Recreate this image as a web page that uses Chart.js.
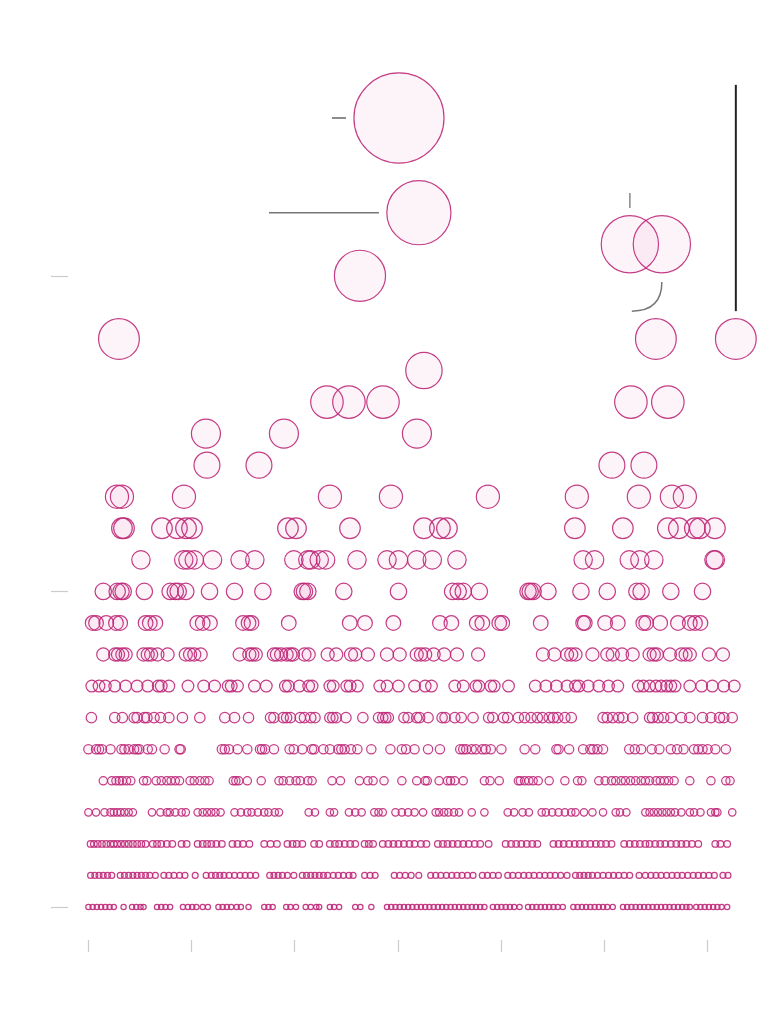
<!DOCTYPE html>
<html>
<head>
<meta charset="utf-8">
<script src="https://cdn.jsdelivr.net/npm/chart.js@4/dist/chart.umd.min.js"></script>
<style>
  html, body { margin: 0; padding: 0; background: #fff; overflow: hidden; }
  #chart { display: block; }
</style>
</head>
<body>
<canvas id="chart" width="760" height="1010"></canvas>
<script>
// x positions of the bubbles, one list per row (row = y value)
var level0 = [0.04,0.45,0.86,1.27,1.68,2.09,2.50,3.45,4.27,4.68,5.09,5.38,6.69,7.10,7.51,7.96,9.20,9.69,10.10,10.51,11.12,11.62,12.64,13.05,13.46,13.88,14.41,14.82,15.56,17.08,17.49,17.90,19.21,19.62,20.16,21.10,21.59,22.13,22.41,23.44,23.85,24.34,25.90,26.40,27.46,28.98,29.39,29.80,30.21,30.62,31.03,31.44,31.86,32.27,32.68,33.09,33.50,33.91,34.32,34.73,35.14,35.55,35.96,36.37,36.78,37.19,37.60,38.01,38.42,39.24,39.66,40.07,40.48,40.89,41.30,41.83,42.65,43.06,43.47,43.88,44.29,44.70,45.11,45.53,46.02,47.04,47.45,47.87,48.28,48.69,49.10,49.51,49.92,50.33,50.86,51.85,52.26,52.67,53.08,53.49,53.90,54.31,54.72,55.13,55.54,55.95,56.36,56.77,57.18,57.59,58.00,58.33,58.95,59.36,59.77,60.18,60.59,61.00,61.41,61.95];
var level1 = [0.25,0.66,1.07,1.48,1.89,2.30,3.12,3.53,3.94,4.35,4.76,5.17,5.58,5.99,6.53,7.35,7.84,8.33,8.87,9.40,10.39,11.45,11.95,12.36,12.77,13.18,13.67,14.20,14.74,15.23,15.72,16.26,17.61,18.02,18.43,18.84,19.33,19.95,20.77,21.18,21.59,22.00,22.41,22.82,23.23,23.77,24.26,24.75,25.29,25.70,26.81,27.34,27.83,29.68,30.21,30.75,31.32,32.06,33.21,33.70,34.20,34.73,35.26,35.76,36.25,36.78,37.32,38.22,38.71,39.24,39.78,40.68,41.17,41.71,42.24,42.73,43.23,43.76,44.29,44.79,45.28,45.81,46.43,47.25,47.66,48.07,48.48,48.89,49.38,49.92,50.45,50.94,51.44,51.97,52.50,53.41,54.02,54.56,55.05,55.54,56.08,56.61,57.10,57.59,58.13,58.66,59.15,59.65,60.18,60.71,61.54,62.03];
var level2 = [0.25,0.57,0.94,1.35,1.77,2.18,2.50,2.83,3.20,3.57,3.94,4.35,4.76,5.17,5.58,6.28,6.69,7.10,7.64,8.17,9.07,9.56,10.63,11.12,11.54,11.95,12.44,12.97,14.00,14.49,15.02,15.64,17.08,17.69,18.31,19.33,19.83,20.24,20.77,21.92,22.41,23.44,23.93,24.34,24.88,25.41,25.90,26.81,27.22,27.63,28.57,29.11,29.60,30.09,30.62,31.16,31.65,32.27,32.80,33.91,34.40,34.85,35.34,35.84,36.37,36.90,37.48,38.01,38.83,40.48,41.01,41.50,42.00,42.53,43.06,43.55,45.11,45.61,46.10,46.63,47.17,47.66,48.15,48.69,49.22,49.71,50.21,50.74,51.97,52.50,53.00,53.49,54.02,54.43,54.97,55.46,55.95,56.49,57.02,57.51,58.00,58.54,59.15,60.80,61.29,61.95];
var level3 = [0.04,0.78,1.60,2.18,2.50,2.83,3.16,3.53,3.94,4.35,6.20,7.02,7.64,7.92,8.46,9.07,9.48,10.63,11.12,11.54,11.95,12.36,12.85,14.20,14.82,15.44,15.85,16.46,17.08,17.49,18.10,18.51,21.39,22.00,23.44,23.85,25.29,25.90,26.52,27.75,28.16,28.57,29.80,30.42,31.03,31.65,32.47,33.70,34.03,34.52,34.93,35.47,35.96,37.19,38.42,40.68,41.30,42.12,42.73,43.97,44.38,44.99,45.61,46.22,46.84,47.25,48.07,48.89,49.92,51.15,51.56,52.18,54.02,54.43,54.84,55.25,55.66,56.08,56.49,56.90,57.51,58.33,58.74,59.36,60.38,60.80,61.00,62.44];
var level4 = [1.48,2.30,2.71,3.04,3.33,3.74,4.15,5.38,5.71,6.61,7.10,7.64,8.05,8.46,8.87,9.89,10.30,10.84,11.33,11.74,14.08,14.33,14.61,15.44,16.79,18.51,18.92,19.54,20.16,20.57,21.31,21.72,23.65,24.47,26.31,27.13,27.63,28.69,30.42,31.86,32.68,32.88,34.03,34.85,35.14,35.55,36.37,38.42,38.96,39.86,41.71,41.91,42.32,42.73,43.14,43.64,44.70,46.22,47.45,47.87,49.51,50.12,50.74,51.15,51.68,52.09,52.59,53.08,53.61,54.02,54.43,55.05,55.46,55.87,56.28,56.81,58.33,60.38,61.82,62.23];
var level5 = [0.04,0.78,1.07,1.35,2.18,3.24,3.53,3.94,4.47,4.76,4.97,5.79,6.20,7.43,8.87,8.99,12.97,13.26,13.67,14.49,15.44,16.67,16.87,17.16,18.02,19.54,19.95,20.77,21.72,21.92,22.82,23.44,24.26,24.55,24.88,25.49,26.11,27.46,29.31,30.42,30.83,31.65,32.96,34.11,36.08,36.37,36.66,37.19,37.60,38.22,38.55,39.04,40.07,42.32,43.35,45.40,45.61,46.63,47.99,48.69,48.97,49.38,49.92,52.46,53.00,53.61,54.64,55.38,56.49,57.10,57.72,58.74,59.15,59.56,60.06,60.80,61.82];
var level6 = [0.33,2.59,3.33,4.47,4.76,5.46,5.71,6.40,7.02,7.84,9.15,10.84,13.26,14.20,15.56,17.69,18.02,18.92,19.25,19.62,20.57,20.98,21.59,22.00,23.44,23.73,24.06,25.00,26.64,28.16,28.57,28.86,29.11,30.62,31.03,31.86,32.14,32.96,34.32,34.61,35.55,36.17,37.32,38.83,39.24,40.27,40.68,41.71,42.32,42.94,43.55,44.05,44.70,45.11,45.53,46.22,46.84,49.92,50.33,50.86,51.44,51.85,52.79,54.43,54.72,55.25,55.79,56.49,57.51,58.33,59.56,60.38,61.21,61.62,62.44];
var level7 = [0.37,1.07,1.68,2.59,3.65,4.76,5.79,6.81,7.10,7.84,9.69,11.21,12.27,13.59,13.88,14.49,16.13,17.28,19.13,19.42,20.48,21.39,21.72,23.44,23.77,25.08,25.41,26.11,28.28,28.98,30.09,31.65,32.68,33.29,35.55,36.37,37.60,37.89,39.04,39.37,40.76,43.35,44.38,45.40,46.43,47.25,47.58,48.48,49.51,50.45,51.35,53.33,53.82,54.43,55.05,55.54,56.08,56.49,56.90,58.33,59.48,60.51,61.62,62.64];
var level8 = [1.48,2.63,2.91,3.33,3.65,5.38,5.79,6.12,6.73,7.72,9.48,9.89,10.30,10.92,14.70,15.64,15.93,16.26,18.02,18.31,18.72,19.25,19.62,19.87,20.98,21.39,23.23,24.06,25.49,25.90,27.13,28.98,30.21,31.86,32.27,32.68,33.50,34.52,35.76,37.81,44.09,45.20,46.43,46.84,47.25,48.89,50.33,50.86,51.76,52.79,54.43,54.84,55.13,56.40,57.51,57.92,58.33,60.18,61.54];
var level9 = [0.45,0.78,1.77,2.71,3.12,5.58,5.99,6.53,10.59,11.12,11.82,15.02,15.56,15.85,19.46,25.37,26.85,29.60,34.11,35.22,37.68,38.22,39.86,40.15,43.88,47.99,48.15,50.12,51.35,53.82,54.10,55.46,57.18,58.33,58.83,59.36];
var level10 = [1.48,2.83,3.20,3.41,5.46,7.96,8.46,8.74,9.48,11.78,14.20,16.95,20.77,20.98,21.31,24.79,30.09,35.34,35.88,36.37,37.93,42.65,42.86,43.14,44.58,47.78,50.33,53.20,53.61,56.49,59.56];
var level11 = [5.13,9.28,9.69,10.30,12.07,14.74,16.17,19.95,21.31,21.59,22.41,23.03,26.07,28.98,30.09,31.86,33.37,35.76,47.99,49.10,52.46,53.49,54.84,60.67,60.80];
var level12 = [3.29,3.49,7.17,8.62,9.50,10.08,19.38,20.16,25.39,32.56,34.11,34.79,47.19,51.84,56.20,57.27,58.82,59.30,60.76];
var level13 = [2.81,3.29,9.30,23.45,29.36,38.76,47.38,53.39,56.59,57.85];
var level14 = [11.53,16.57,50.78,53.88];
var level15 = [11.43,18.99,31.88];
var level16 = [23.16,25.29,28.59,52.62,56.20];
var level17 = [32.56];
var level18 = [3.00,55.04,62.79];
var level20 = [26.36];
var level21 = [52.52,55.62];
var level22 = [32.07];
var level25 = [30.14];

var rowValues = [0,1,2,3,4,5,6,7,8,9,10,11,12,13,14,15,16,17,18,20,21,22,25];
var rowLists = [level0,level1,level2,level3,level4,level5,level6,level7,level8,level9,level10,
  level11,level12,level13,level14,level15,level16,level17,level18,level20,level21,level22,level25];

var xTicks = [0,10,20,30,40,50,60];
var yTicks = [0,10,20];

// bubble radius grows with the row value
function radiusFor(v) { return 2.65 * Math.pow(1.12, v); }

var points = [];
rowValues.forEach(function (v, i) {
  rowLists[i].forEach(function (x) {
    points.push({ x: x, y: v, r: radiusFor(v) });
  });
});

// connector lines left over from the labels (data coordinates)
var annoLines = [
  { from: [23.64, 25], to: [25.0, 25], color: '#666', width: 1.5 },
  { from: [17.54, 22], to: [28.2, 22], color: '#777', width: 1.5 },
  { from: [52.52, 22.62], to: [52.52, 22.15], color: '#888', width: 1.5 },
  { from: [62.79, 26.05], to: [62.79, 18.88], color: '#222', width: 2 }
];
var annoCurve = { from: [55.62, 19.80], ctrl: [55.62, 18.88], to: [52.71, 18.88], color: '#777', width: 1.5 };

var extras = {
  id: 'extras',
  afterDatasetsDraw: function (chart) {
    var ctx = chart.ctx, xs = chart.scales.x, ys = chart.scales.y;
    function px(p) { return [xs.getPixelForValue(p[0]), ys.getPixelForValue(p[1])]; }
    ctx.save();
    ctx.lineCap = 'butt';
    annoLines.forEach(function (l) {
      var a = px(l.from), b = px(l.to);
      ctx.strokeStyle = l.color;
      ctx.lineWidth = l.width;
      ctx.beginPath();
      ctx.moveTo(a[0], a[1]);
      ctx.lineTo(b[0], b[1]);
      ctx.stroke();
    });
    var a = px(annoCurve.from), c = px(annoCurve.ctrl), b = px(annoCurve.to);
    ctx.strokeStyle = annoCurve.color;
    ctx.lineWidth = annoCurve.width;
    ctx.beginPath();
    ctx.moveTo(a[0], a[1]);
    ctx.quadraticCurveTo(c[0], c[1], b[0], b[1]);
    ctx.stroke();

    // tick marks, detached from the plot
    ctx.strokeStyle = '#cccccc';
    ctx.lineWidth = 1.2;
    yTicks.forEach(function (t) {
      var y = Math.round(ys.getPixelForValue(t)) + 0.5;
      ctx.beginPath();
      ctx.moveTo(51, y);
      ctx.lineTo(68, y);
      ctx.stroke();
    });
    xTicks.forEach(function (t) {
      var x = Math.round(xs.getPixelForValue(t)) + 0.5;
      ctx.beginPath();
      ctx.moveTo(x, 940);
      ctx.lineTo(x, 952);
      ctx.stroke();
    });
    ctx.restore();
  }
};

new Chart(document.getElementById('chart'), {
  type: 'bubble',
  data: {
    datasets: [{
      data: points,
      backgroundColor: 'rgba(214, 40, 130, 0.05)',
      borderColor: 'rgba(190, 40, 120, 0.9)',
      borderWidth: 1.2,
      clip: false
    }]
  },
  options: {
    responsive: false,
    animation: false,
    layout: { autoPadding: false, padding: { left: 88, right: 22, top: 118, bottom: 103 } },
    plugins: { legend: { display: false }, tooltip: { enabled: false } },
    scales: {
      x: { type: 'linear', min: 0, max: 63, display: false },
      y: { type: 'linear', min: 0, max: 25, display: false }
    }
  },
  plugins: [extras]
});
</script>
</body>
</html>
